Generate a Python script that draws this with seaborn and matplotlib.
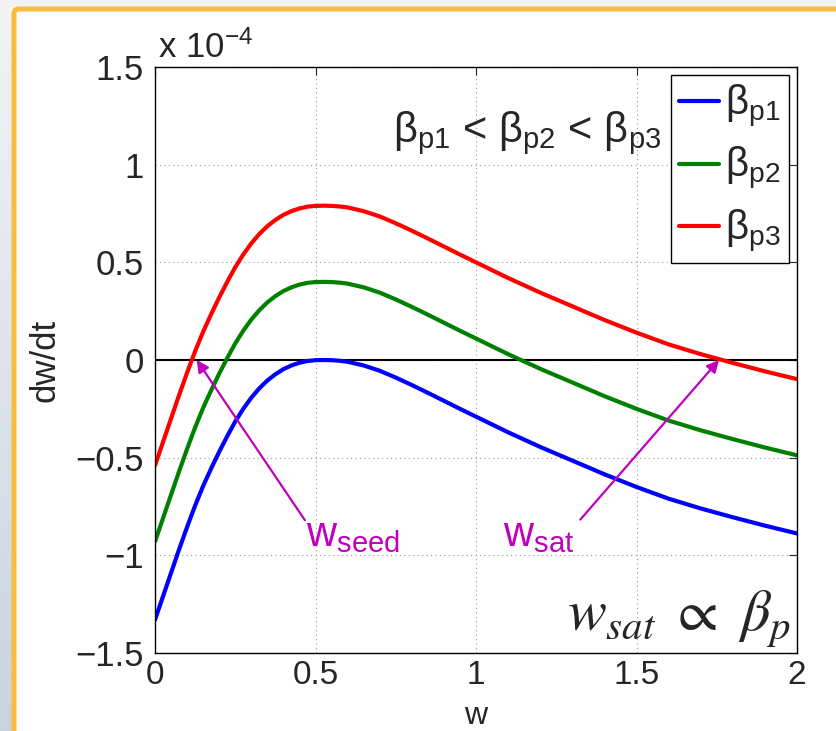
import numpy as np
import pandas as pd
import matplotlib
matplotlib.use("Agg")
import matplotlib.pyplot as plt
from matplotlib.patches import FancyBboxPatch
from matplotlib.ticker import FuncFormatter
import seaborn as sns

# Island width w and growth rate dw/dt (in units of 1e-4) for three beta_p values
w = [0, 0.025, 0.05, 0.075, 0.1, 0.125, 0.15, 0.175, 0.2, 0.225, 0.25, 0.275,
     0.3, 0.325, 0.35, 0.375, 0.4, 0.425, 0.45, 0.475, 0.5, 0.525, 0.55, 0.575,
     0.6, 0.65, 0.7, 0.75, 0.8, 0.85, 0.9, 0.95, 1.0, 1.1, 1.2, 1.3, 1.4, 1.5,
     1.6, 1.7, 1.8, 1.9, 2.0]
dwdt_p1 = [-1.33, -1.21, -1.09, -0.97, -0.855, -0.745, -0.645, -0.555, -0.47,
           -0.39, -0.315, -0.25, -0.193, -0.145, -0.105, -0.073, -0.047, -0.028,
           -0.014, -0.005, -0.001, 0.0, -0.001, -0.004, -0.009, -0.028, -0.055,
           -0.09, -0.128, -0.168, -0.209, -0.25, -0.29, -0.37, -0.445, -0.515,
           -0.585, -0.65, -0.71, -0.76, -0.805, -0.848, -0.888]
dwdt_p2 = [-0.93, -0.81, -0.69, -0.57, -0.455, -0.345, -0.245, -0.155, -0.07,
           0.01, 0.085, 0.15, 0.207, 0.255, 0.295, 0.327, 0.353, 0.372, 0.386,
           0.395, 0.399, 0.40, 0.399, 0.396, 0.391, 0.372, 0.345, 0.31, 0.272,
           0.232, 0.191, 0.15, 0.11, 0.03, -0.045, -0.115, -0.185, -0.25, -0.31,
           -0.36, -0.405, -0.448, -0.488]
dwdt_p3 = [-0.54, -0.42, -0.30, -0.18, -0.065, 0.045, 0.145, 0.235, 0.32, 0.40,
           0.475, 0.54, 0.597, 0.645, 0.685, 0.717, 0.743, 0.762, 0.776, 0.785,
           0.789, 0.79, 0.789, 0.786, 0.781, 0.762, 0.735, 0.70, 0.662, 0.622,
           0.581, 0.54, 0.50, 0.42, 0.345, 0.275, 0.205, 0.14, 0.08, 0.03,
           -0.015, -0.058, -0.098]
series_labels = [r"$\beta_{\mathrm{p1}}$", r"$\beta_{\mathrm{p2}}$", r"$\beta_{\mathrm{p3}}$"]
series_colors = ["#0000FF", "#008000", "#FF0000"]
x_ticks = [0, 0.5, 1, 1.5, 2]
y_ticks = [-1.5, -1, -0.5, 0, 0.5, 1, 1.5]

df = pd.concat([
    pd.DataFrame({"w": w, "dwdt": vals, "beta": lab})
    for vals, lab in zip([dwdt_p1, dwdt_p2, dwdt_p3], series_labels)
], ignore_index=True)

sns.set_style("white")
plt.rcParams["font.family"] = ["Liberation Sans", "DejaVu Sans"]
plt.rcParams["mathtext.fontset"] = "custom"
plt.rcParams["mathtext.rm"] = "Liberation Sans"
plt.rcParams["mathtext.it"] = "Liberation Sans:italic"
plt.rcParams["mathtext.default"] = "regular"

fig = plt.figure(figsize=(8.37, 7.31), dpi=100)

# Slide-style backdrop: soft blue-grey gradient with an orange-edged white panel
bg = fig.add_axes([0, 0, 1, 1], zorder=-10)
grad = np.linspace(0, 1, 256)[:, None]
top_c = np.array([0.949, 0.957, 0.965])
bot_c = np.array([0.788, 0.831, 0.875])
img = top_c[None, None, :] * (1 - grad[..., None]) + bot_c[None, None, :] * grad[..., None]
bg.imshow(img, aspect="auto", extent=[0, 1, 0, 1], origin="upper")
panel = FancyBboxPatch((14 / 837, -0.2), 1.2, 1.2 - 9 / 731,
                       boxstyle="round,pad=0,rounding_size=0.006",
                       facecolor="white", edgecolor="#FBBC3E", linewidth=3.6,
                       transform=bg.transAxes)
bg.add_patch(panel)
bg.set_xlim(0, 1)
bg.set_ylim(0, 1)
bg.axis("off")

ax = fig.add_axes([155 / 837, 1 - 653 / 731, 642 / 837, 586 / 731])
ax.set_facecolor("none")

sns.lineplot(data=df, x="w", y="dwdt", hue="beta", palette=series_colors,
             linewidth=3.0, ax=ax, sort=False)
ax.axhline(0, color="black", linewidth=1.5, zorder=1)

ax.set_xlim(0, 2)
ax.set_ylim(-1.5, 1.5)
ax.set_xticks(x_ticks)
ax.set_yticks(y_ticks)
fmt = FuncFormatter(lambda v, p: ("%g" % v).replace("-", "\u2212"))
ax.xaxis.set_major_formatter(fmt)
ax.yaxis.set_major_formatter(fmt)
ax.tick_params(direction="in", length=6, width=0.8, top=True, right=True,
               labelsize=25, pad=8)
ax.tick_params(axis="x", labelsize=24, pad=5)
ax.grid(True, color="#999999", linestyle=(0, (1, 3)), linewidth=0.8)
for s in ax.spines.values():
    s.set_color("black")
    s.set_linewidth(1.0)

ax.set_xlabel("w", fontsize=23)
ax.xaxis.label.set_va("baseline")
ax.xaxis.set_label_coords(0.5, -0.121)
ax.set_ylabel("dw/dt", fontsize=25, labelpad=10)
ax.text(0.005, 1.003, r"x 10$^{-4}$", transform=ax.transAxes, fontsize=25,
        ha="left", va="bottom")

leg = ax.legend(title=None, loc="upper right", fontsize=29, frameon=True,
                fancybox=False, edgecolor="black", framealpha=1,
                handlelength=1.0, handletextpad=0.15, labelspacing=0.38,
                borderpad=0.2, borderaxespad=0.2)
leg.get_frame().set_linewidth(1.0)
for line in leg.get_lines():
    line.set_linewidth(3.0)

ax.text(1.16, 1.115, r"$\beta_{\mathrm{p1}}$ < $\beta_{\mathrm{p2}}$ < $\beta_{\mathrm{p3}}$",
        fontsize=30, ha="center", va="baseline")

magenta = "#BF00BF"
ax.annotate("", xy=(0.13, 0.0), xytext=(0.467, -0.82),
            arrowprops=dict(arrowstyle="-|>", color=magenta, lw=1.6,
                            mutation_scale=18, shrinkA=0, shrinkB=0))
ax.annotate("", xy=(1.757, 0.0), xytext=(1.325, -0.817),
            arrowprops=dict(arrowstyle="-|>", color=magenta, lw=1.6,
                            mutation_scale=18, shrinkA=0, shrinkB=0))
ax.text(0.47, -0.955, r"w$_{\mathrm{seed}}$", color=magenta, fontsize=30,
        ha="left", va="baseline")
ax.text(1.085, -0.955, r"w$_{\mathrm{sat}}$", color=magenta, fontsize=30,
        ha="left", va="baseline")

ax.text(1.98, -1.38, r"$\mathit{w}_{\mathit{sat}}\ \propto\ \mathit{\beta}_{\mathit{p}}$",
        fontsize=42, ha="right", va="baseline", math_fontfamily="stix")

fig.savefig("out.png", dpi=100)
